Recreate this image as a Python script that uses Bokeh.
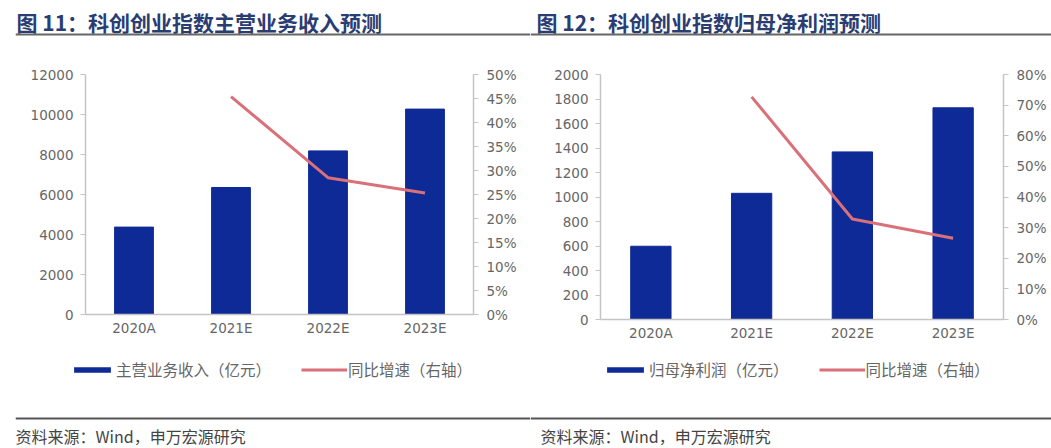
from bokeh.plotting import figure
from bokeh.models import (ColumnDataSource, Range1d, LinearAxis, Legend, LegendItem,
                          NumeralTickFormatter, FixedTicker, Label, Span)
from bokeh.layouts import row, column
from bokeh.embed import file_html
from bokeh.resources import INLINE

# ---- data ----
years = ["2020A", "2021E", "2022E", "2023E"]
revenue = [4370, 6350, 8180, 10270]            # 主营业务收入（亿元）
revenue_growth = [None, 0.454, 0.285, 0.253]    # 同比增速
profit = [598, 1030, 1368, 1728]                # 归母净利润（亿元）
profit_growth = [None, 0.727, 0.328, 0.265]     # 同比增速

title1 = "图 11：科创创业指数主营业务收入预测"
title2 = "图 12：科创创业指数归母净利润预测"
bar_label1 = "主营业务收入（亿元）"
bar_label2 = "归母净利润（亿元）"
line_label = "同比增速（右轴）"
source_text = "资料来源：Wind，申万宏源研究"

left_ticks1 = [0, 2000, 4000, 6000, 8000, 10000, 12000]
right_ticks1 = [0, 0.05, 0.10, 0.15, 0.20, 0.25, 0.30, 0.35, 0.40, 0.45, 0.50]
left_ticks2 = [0, 200, 400, 600, 800, 1000, 1200, 1400, 1600, 1800, 2000]
right_ticks2 = [0, 0.10, 0.20, 0.30, 0.40, 0.50, 0.60, 0.70, 0.80]

BAR = "#0E2A96"
LINE = "#D9707A"
AXIS = "#C4C4C4"
TXT = "#666666"
TITLE_C = "#2A3D72"
FONT = "Noto Sans CJK SC"
NUMFONT = "DejaVu Sans"


def make_source(vals, growth):
    return ColumnDataSource(dict(x=years, v=vals,
                                 g=[float("nan") if g is None else g for g in growth]))


def blank(width, height, left):
    """A plain strip whose frame starts `left` px from its edge; data units = pixels."""
    p = figure(width=width, height=height,
               x_range=Range1d(0, width - left), y_range=Range1d(0, height),
               output_backend="svg", toolbar_location=None,
               x_axis_location=None, y_axis_location=None,
               min_border=0, min_border_left=left, min_border_right=0,
               min_border_top=0, min_border_bottom=0)
    p.outline_line_color = None
    p.grid.visible = False
    return p


def title_strip(width, height, left, text, tx):
    p = blank(width, height, left)
    p.add_layout(Label(x=tx, y=height - 21, text=text, text_font=FONT, text_font_size="21px",
                       text_font_style="bold", text_color=TITLE_C, text_baseline="middle"))
    p.add_layout(Span(location=height - 34, dimension="width", line_color="#666666",
                      line_width=2))
    return p


def source_strip(width, height, left, text, tx):
    p = blank(width, height, left)
    p.add_layout(Span(location=height - 22, dimension="width", line_color="#555555",
                      line_width=2))
    p.add_layout(Label(x=tx, y=13, text=text, text_font=FONT, text_font_size="16px",
                       text_color="#444444", text_baseline="middle"))
    return p


def make_chart(fw, fh, bl, br, bt, bb, src, lt, rt):
    p = figure(x_range=years, y_range=Range1d(lt[0], lt[-1]),
               frame_width=fw, frame_height=fh,
               output_backend="svg", toolbar_location=None,
               min_border_left=bl, min_border_right=br, min_border_top=bt, min_border_bottom=bb)
    p.extra_y_ranges = {"pct": Range1d(rt[0], rt[-1])}
    p.x_range.range_padding = 0
    p.outline_line_color = None
    p.grid.visible = False

    p.vbar(x="x", top="v", width=0.4, source=src, color=BAR)
    p.line(x="x", y="g", source=src, y_range_name="pct", line_color=LINE, line_width=3)

    ax = p.yaxis[0]
    ax.ticker = FixedTicker(ticks=lt)
    ax.formatter = NumeralTickFormatter(format="0")
    ra = LinearAxis(y_range_name="pct", ticker=FixedTicker(ticks=rt),
                    formatter=NumeralTickFormatter(format="0%"))
    p.add_layout(ra, "right")
    for a in (ax, ra):
        a.axis_line_color = AXIS
        a.axis_line_width = 1.5
        a.major_tick_line_color = AXIS
        a.major_tick_out = 5
        a.major_tick_in = 0
        a.minor_tick_line_color = None
        a.major_label_text_color = TXT
        a.major_label_text_font = NUMFONT
        a.major_label_text_font_size = "13.5px"
    ax.major_label_standoff = 7
    ra.major_label_standoff = 8
    xa = p.xaxis[0]
    xa.axis_line_color = AXIS
    xa.axis_line_width = 1.5
    xa.major_tick_line_color = None
    xa.major_tick_out = 0
    xa.major_tick_in = 0
    xa.minor_tick_line_color = None
    xa.major_label_text_color = TXT
    xa.major_label_text_font = NUMFONT
    xa.major_label_text_font_size = "13.5px"
    xa.major_label_standoff = 5
    return p


def legend_fig(width, height, src, bar_label, loc, spacing):
    # legend-only strip: its renderers hold the same series but draw nothing visible
    p = figure(width=width, height=height, x_range=years, y_range=Range1d(-3, -2),
               output_backend="svg", toolbar_location=None,
               x_axis_location=None, y_axis_location=None,
               min_border=0, min_border_left=0, min_border_right=0,
               min_border_top=0, min_border_bottom=0)
    p.outline_line_color = None
    p.grid.visible = False
    vb = p.vbar(x="x", top="v", bottom="v", width=0, source=src,
                fill_color=BAR, line_color=None)
    ln = p.line(x="x", y="g", source=src, line_color=LINE, line_width=3)
    leg = Legend(items=[LegendItem(label=bar_label, renderers=[vb]),
                        LegendItem(label=line_label, renderers=[ln])],
                 orientation="horizontal", location=loc,
                 label_text_font=FONT, label_text_font_size="15.5px", label_text_color=TXT,
                 glyph_width=46, glyph_height=7, label_standoff=1, spacing=spacing,
                 border_line_color=None, background_fill_alpha=0, padding=4, margin=0)
    p.add_layout(leg)
    return p


W1, W2 = 530, 521
s1 = make_source(revenue, revenue_growth)
s2 = make_source(profit, profit_growth)

t1 = title_strip(W1, 42, 15, title1, 1)
t2 = title_strip(W2, 42, 0, title2, 6)
p1 = make_chart(388, 240, 85, 57, 32, 32, s1, left_ticks1, right_ticks1)
p2 = make_chart(403, 245, 70, 48, 29, 30, s2, left_ticks2, right_ticks2)
l1 = legend_fig(W1, 50, s1, bar_label1, (69, 16), 30)
l2 = legend_fig(W2, 50, s2, bar_label2, (72, 16), 30)
f1 = source_strip(W1, 52, 15, source_text, 0)
f2 = source_strip(W2, 52, 0, source_text, 10)

layout = column(row(t1, t2), row(p1, p2), row(l1, l2), row(f1, f2))

open("out.html", "w").write(file_html(layout, INLINE))
